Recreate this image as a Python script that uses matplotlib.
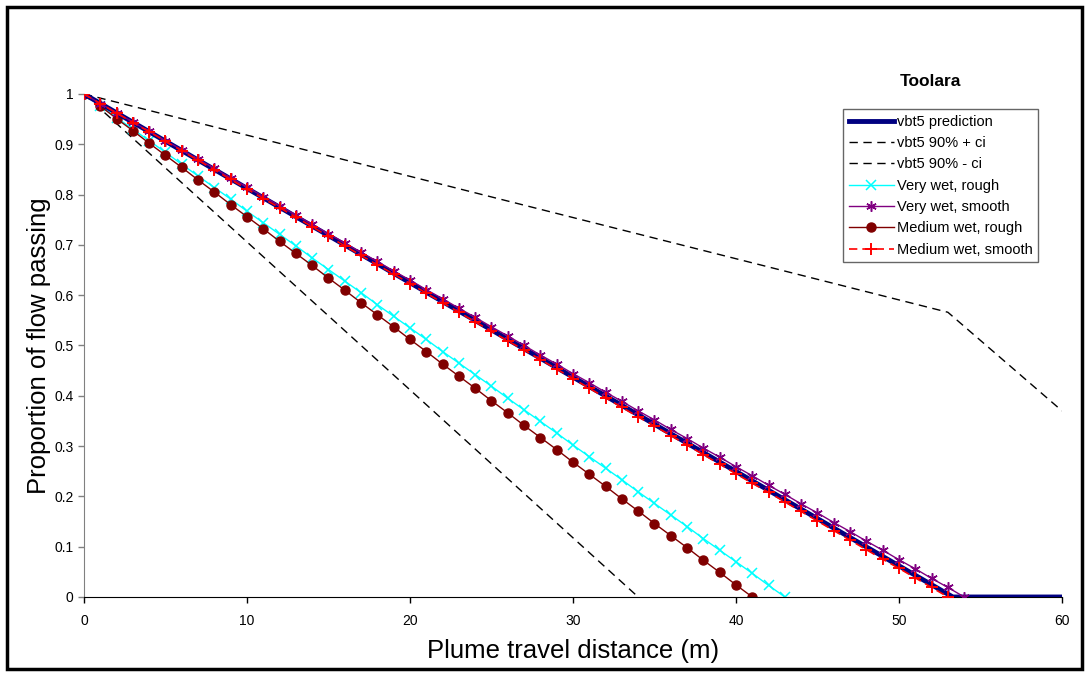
import matplotlib.pyplot as plt
from matplotlib.patches import Rectangle

plt.rcParams['font.family'] = ['Liberation Sans', 'DejaVu Sans']

# vbt5 model lines
pred_x = [0, 53.3, 60]
pred_y = [1.0, 0.0, 0.0]
ci_hi_x = [0, 53, 60]
ci_hi_y = [1.0, 0.566, 0.370]
ci_lo_x = [0, 34]
ci_lo_y = [1.0, 0.0]

# field plots, one point per metre
vw_rough_x = list(range(44))
vw_rough_y = [1.000, 0.977, 0.953, 0.930, 0.907, 0.884, 0.860, 0.837, 0.814, 0.791,
              0.767, 0.744, 0.721, 0.698, 0.674, 0.651, 0.628, 0.605, 0.581, 0.558,
              0.535, 0.512, 0.488, 0.465, 0.442, 0.419, 0.395, 0.372, 0.349, 0.326,
              0.302, 0.279, 0.256, 0.233, 0.209, 0.186, 0.163, 0.140, 0.116, 0.093,
              0.070, 0.047, 0.023, 0.000]

vw_smooth_x = list(range(55))
vw_smooth_y = [1.000, 0.981, 0.963, 0.944, 0.926, 0.907, 0.889, 0.870, 0.852, 0.833,
               0.815, 0.796, 0.778, 0.759, 0.741, 0.722, 0.704, 0.685, 0.667, 0.648,
               0.630, 0.611, 0.593, 0.574, 0.556, 0.537, 0.519, 0.500, 0.481, 0.463,
               0.444, 0.426, 0.407, 0.389, 0.370, 0.352, 0.333, 0.315, 0.296, 0.278,
               0.259, 0.241, 0.222, 0.204, 0.185, 0.167, 0.148, 0.130, 0.111, 0.093,
               0.074, 0.056, 0.037, 0.019, 0.000]

mw_rough_x = list(range(42))
mw_rough_y = [1.000, 0.976, 0.951, 0.927, 0.902, 0.878, 0.854, 0.829, 0.805, 0.780,
              0.756, 0.732, 0.707, 0.683, 0.659, 0.634, 0.610, 0.585, 0.561, 0.537,
              0.512, 0.488, 0.463, 0.439, 0.415, 0.390, 0.366, 0.341, 0.317, 0.293,
              0.268, 0.244, 0.220, 0.195, 0.171, 0.146, 0.122, 0.098, 0.073, 0.049,
              0.024, 0.000]

mw_smooth_x = list(range(54))
mw_smooth_y = [1.000, 0.981, 0.962, 0.943, 0.925, 0.906, 0.887, 0.868, 0.849, 0.830,
               0.811, 0.792, 0.774, 0.755, 0.736, 0.717, 0.698, 0.679, 0.660, 0.642,
               0.623, 0.604, 0.585, 0.566, 0.547, 0.528, 0.509, 0.491, 0.472, 0.453,
               0.434, 0.415, 0.396, 0.377, 0.358, 0.340, 0.321, 0.302, 0.283, 0.264,
               0.245, 0.226, 0.208, 0.189, 0.170, 0.151, 0.132, 0.113, 0.094, 0.075,
               0.057, 0.038, 0.019, 0.000]

fig = plt.figure(figsize=(10.89, 6.76), dpi=100)
ax = fig.add_axes([0.0771, 0.1169, 0.8981, 0.7441])

ax.plot(pred_x, pred_y, color='#000080', lw=3.5, label='vbt5 prediction', zorder=3)
ax.plot(ci_hi_x, ci_hi_y, color='black', lw=1, ls=(0, (6, 4)), label='vbt5 90% + ci')
ax.plot(ci_lo_x, ci_lo_y, color='black', lw=1, ls=(0, (6, 4)), label='vbt5 90% - ci')
ax.plot(vw_rough_x, vw_rough_y, color='#00FFFF', lw=1, marker='x', ms=6.5, mew=1.1,
        label='Very wet, rough')
ax.plot(vw_smooth_x, vw_smooth_y, color='#800080', lw=1, marker=(6, 2, 0), ms=7.5, mew=1.1,
        label='Very wet, smooth', zorder=4)
ax.plot(mw_rough_x, mw_rough_y, color='#800000', lw=1, marker='o', ms=6.5,
        label='Medium wet, rough')
ax.plot(mw_smooth_x, mw_smooth_y, color='#FF0000', lw=1.2, ls=(0, (5, 3)), marker='+',
        ms=9, mew=1.4, label='Medium wet, smooth', zorder=5)

ax.set_xlim(0, 60)
ax.set_ylim(0, 1)
ax.set_xticks([0, 10, 20, 30, 40, 50, 60])
ax.set_yticks([i / 10 for i in range(11)])
ax.set_yticklabels(['0', '0.1', '0.2', '0.3', '0.4', '0.5', '0.6', '0.7', '0.8', '0.9', '1'])
ax.tick_params(labelsize=10, length=4, width=1)
ax.tick_params(axis='y', colors='#808080', labelcolor='black')
ax.tick_params(axis='x', pad=8)

for s in ['top', 'right']:
    ax.spines[s].set_visible(False)
ax.spines['left'].set_color('#808080')
ax.spines['bottom'].set_color('black')
ax.patch.set_alpha(0)

ax.set_xlabel('Plume travel distance (m)', fontsize=18.5, labelpad=8)
ax.set_ylabel('Proportion of flow passing', fontsize=18.5, labelpad=2)

ax.text(0.866, 1.01, 'Toolara', transform=ax.transAxes, ha='center', va='bottom',
        fontsize=12.5, fontweight='bold')
leg = ax.legend(loc='upper left', bbox_to_anchor=(0.776, 0.970), borderaxespad=0,
                fontsize=10.5, frameon=True, fancybox=False, edgecolor='#404040',
                handlelength=3.1, handletextpad=0.2, labelspacing=0.5, borderpad=0.4)
leg.get_frame().set_linewidth(1)

fig.patches.append(Rectangle((0.0064, 0.0104), 0.9872, 0.9792, transform=fig.transFigure,
                             fill=False, edgecolor='black', lw=2.5))

plt.savefig('out.png', dpi=100)
